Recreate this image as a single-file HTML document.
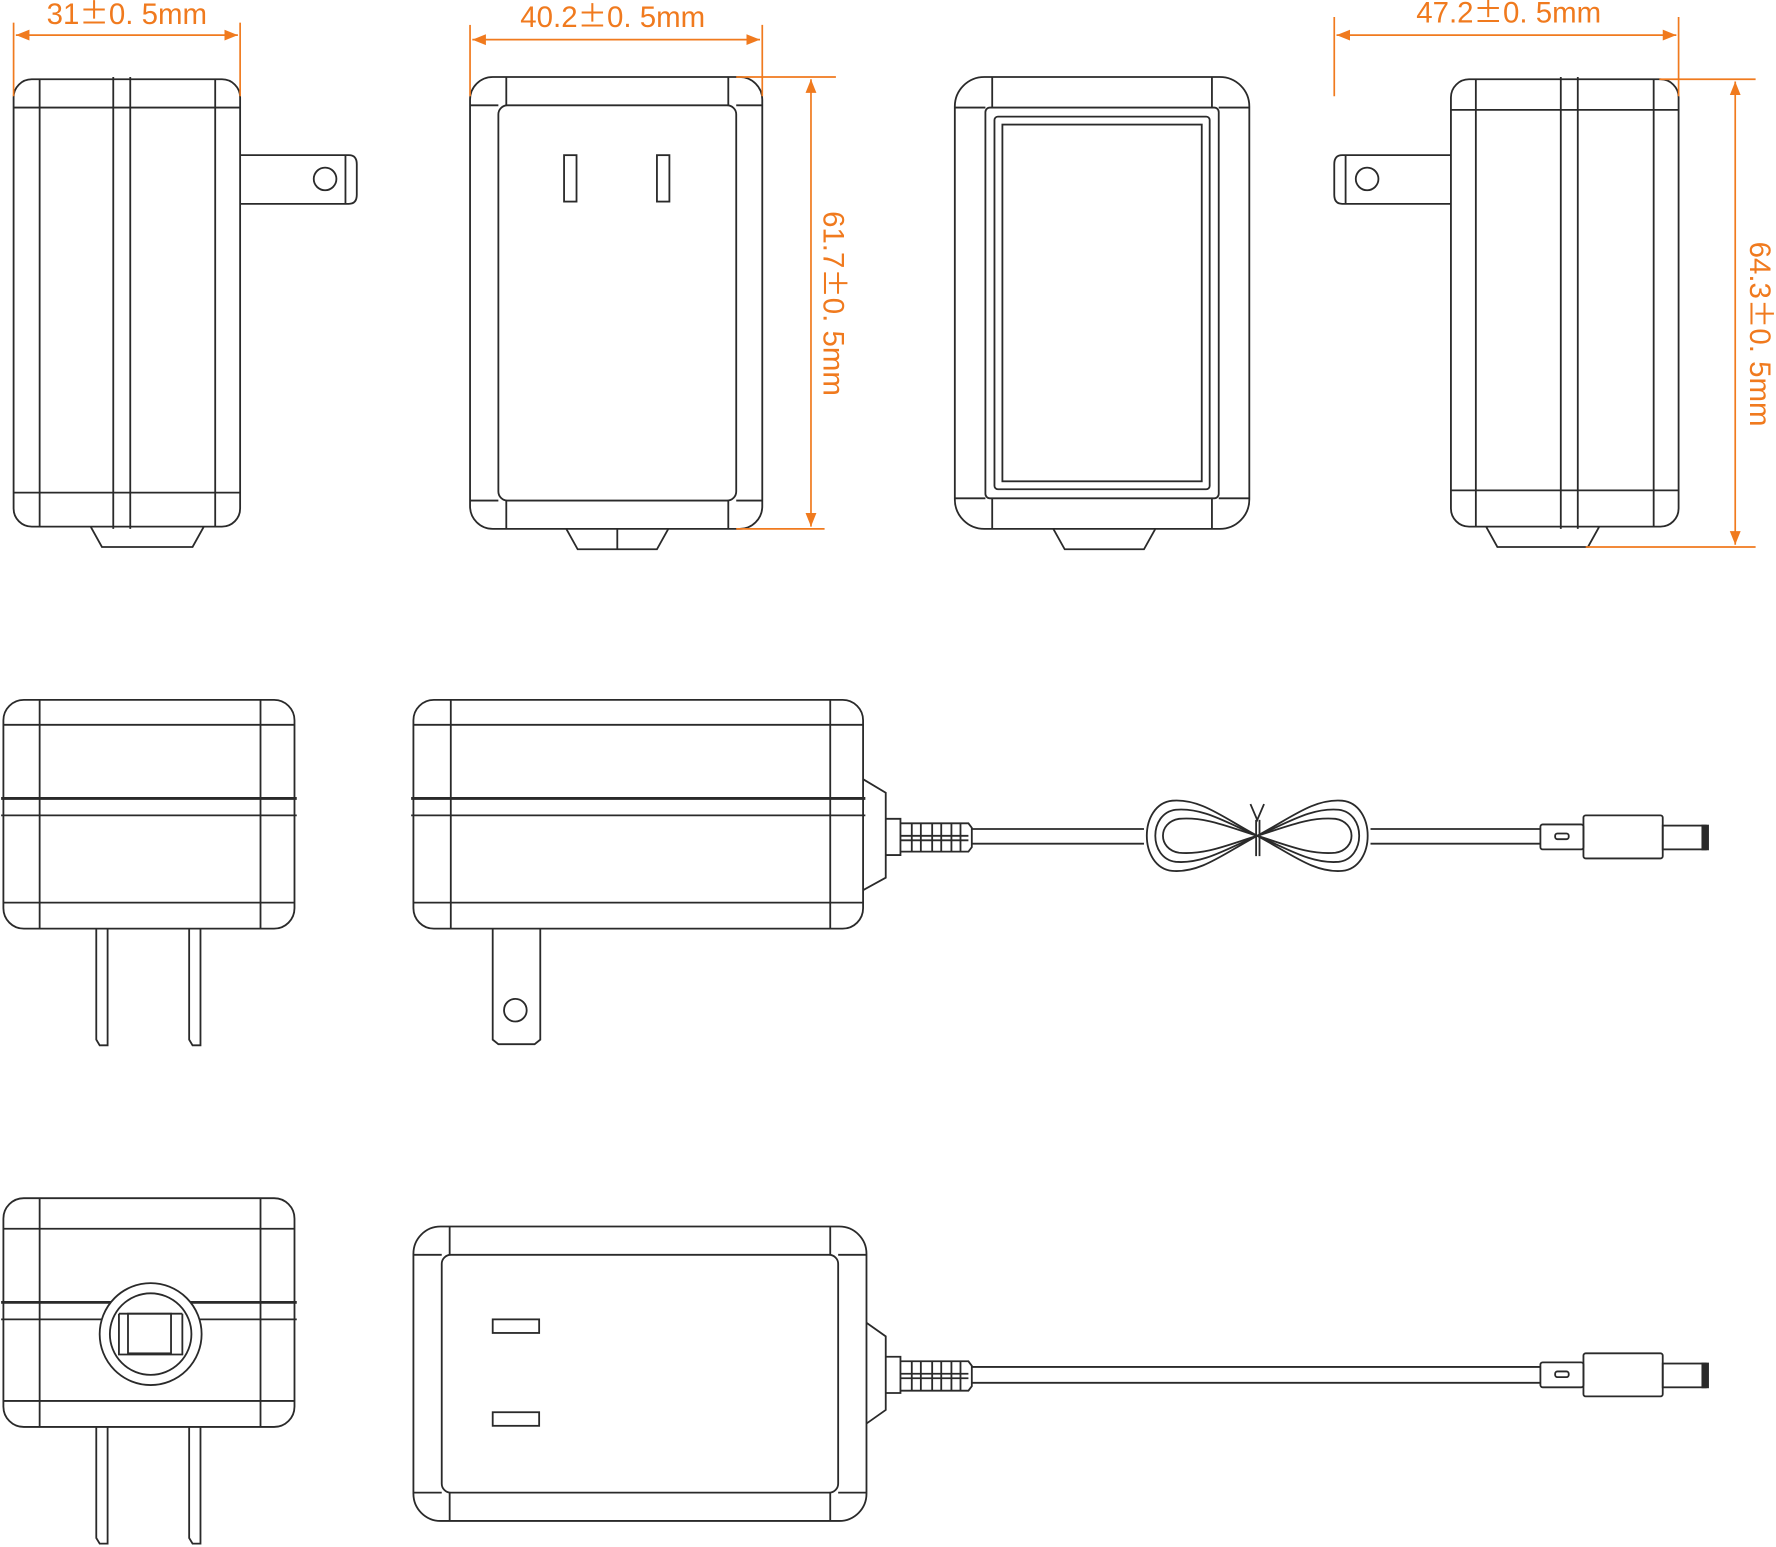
<!DOCTYPE html>
<html><head><meta charset="utf-8"><style>
html,body{margin:0;padding:0;background:#fff;}
svg{display:block}
.l{fill:none;stroke:#2a2a2a;stroke-width:1.6}
.o{fill:none;stroke:#f07a1e;stroke-width:1.5}
.t{fill:#f07a1e;font-family:"Liberation Sans","Noto Sans CJK SC",sans-serif;font-size:26px}
.pm{font-family:"Noto Sans CJK SC",sans-serif;}
</style></head><body>
<svg width="1776" height="1547" viewBox="0 0 1568 1366" preserveAspectRatio="none" xmlns="http://www.w3.org/2000/svg">
<defs>
<marker id="a" viewBox="0 0 10 10" refX="10" refY="5" markerWidth="8" markerHeight="8" orient="auto-start-reverse"><path d="M0,1 L10,5 L0,9z" fill="#f07a1e"/></marker>
</defs>
<!-- 1 left side -->
<g class="l">
<rect x="12" y="70" width="200" height="395" rx="16"/>
<line x1="35" y1="70" x2="35" y2="465"/><line x1="100" y1="68" x2="100" y2="467"/><line x1="115" y1="68" x2="115" y2="467"/><line x1="190" y1="70" x2="190" y2="465"/>
<line x1="12" y1="95" x2="212" y2="95"/><line x1="12" y1="435" x2="212" y2="435"/>
<path d="M80,465 L90,483 L170,483 L180,465"/>
<path d="M212,137 L308,137 Q315,137 315,145 L315,172 Q315,180 308,180 L212,180"/><line x1="305" y1="137" x2="305" y2="180"/>
<circle cx="287" cy="158" r="10"/>
</g>
<line class="o" x1="12" y1="20" x2="12" y2="85"/><line class="o" x1="212" y1="20" x2="212" y2="85"/>
<line class="o" x1="14" y1="31" x2="210" y2="31" marker-start="url(#a)" marker-end="url(#a)"/>
<text class="t" x="112" y="21" text-anchor="middle">31<tspan class="pm">±</tspan>0. 5mm</text>
<!-- 2 front -->
<g class="l">
<rect x="415" y="68" width="258" height="399" rx="20"/>
<rect x="440" y="93" width="210" height="349" rx="8"/>
<path d="M415,93 L440,93 M447,68 L447,93 M650,93 L673,93 M643,68 L643,93 M415,442 L440,442 M447,442 L447,467 M650,442 L673,442 M643,442 L643,467"/>
<rect x="498" y="137" width="11" height="41"/><rect x="580" y="137" width="11" height="41"/>
<path d="M500,467 L510,485 L580,485 L590,467"/><line x1="545" y1="467" x2="545" y2="485"/>
</g>
<line class="o" x1="415" y1="22" x2="415" y2="85"/><line class="o" x1="673" y1="22" x2="673" y2="85"/>
<line class="o" x1="417" y1="35" x2="671" y2="35" marker-start="url(#a)" marker-end="url(#a)"/>
<text class="t" x="541" y="24" text-anchor="middle">40.2<tspan class="pm">±</tspan>0. 5mm</text>
<line class="o" x1="650" y1="68" x2="738" y2="68"/><line class="o" x1="650" y1="467" x2="728" y2="467"/>
<line class="o" x1="716" y1="70" x2="716" y2="465" marker-start="url(#a)" marker-end="url(#a)"/>
<text class="t" transform="translate(727,268) rotate(90)" text-anchor="middle">61.7<tspan class="pm">±</tspan>0. 5mm</text>
<!-- 3 back -->
<g class="l">
<rect x="843" y="68" width="260" height="399" rx="26"/>
<rect x="870" y="95" width="206" height="345" rx="4"/>
<rect x="878" y="103" width="190" height="329" rx="3"/>
<rect x="885" y="110" width="176" height="315"/>
<path d="M843,95 L870,95 M876,68 L876,95 M1076,95 L1103,95 M1070,68 L1070,95 M843,440 L870,440 M876,440 L876,467 M1076,440 L1103,440 M1070,440 L1070,467"/>
<path d="M930,467 L940,485 L1010,485 L1020,467"/>
</g>
<!-- 4 right side -->
<g class="l">
<rect x="1281" y="70" width="201" height="395" rx="16"/>
<line x1="1303" y1="70" x2="1303" y2="465"/><line x1="1378" y1="68" x2="1378" y2="467"/><line x1="1393" y1="68" x2="1393" y2="467"/><line x1="1460" y1="70" x2="1460" y2="465"/>
<line x1="1281" y1="97" x2="1482" y2="97"/><line x1="1281" y1="433" x2="1482" y2="433"/>
<path d="M1312,465 L1322,483 L1402,483 L1412,465"/>
<path d="M1281,137 L1185,137 Q1178,137 1178,145 L1178,172 Q1178,180 1185,180 L1281,180"/><line x1="1188" y1="137" x2="1188" y2="180"/>
<circle cx="1207" cy="158" r="10"/>
</g>
<line class="o" x1="1178" y1="15" x2="1178" y2="85"/><line class="o" x1="1482" y1="15" x2="1482" y2="85"/>
<line class="o" x1="1180" y1="31" x2="1480" y2="31" marker-start="url(#a)" marker-end="url(#a)"/>
<text class="t" x="1332" y="20" text-anchor="middle">47.2<tspan class="pm">±</tspan>0. 5mm</text>
<line class="o" x1="1465" y1="70" x2="1550" y2="70"/><line class="o" x1="1400" y1="483" x2="1550" y2="483"/>
<line class="o" x1="1532" y1="72" x2="1532" y2="481" marker-start="url(#a)" marker-end="url(#a)"/>
<text class="t" transform="translate(1545,295) rotate(90)" text-anchor="middle">64.3<tspan class="pm">±</tspan>0. 5mm</text>
<!-- 5 middle left -->
<g class="l">
<rect x="3" y="618" width="257" height="202" rx="18"/>
<line x1="3" y1="640" x2="260" y2="640"/><line x1="1" y1="705" x2="262" y2="705" stroke-width="2.5"/><line x1="1" y1="720" x2="262" y2="720"/><line x1="3" y1="797" x2="260" y2="797"/>
<line x1="35" y1="618" x2="35" y2="820"/><line x1="230" y1="618" x2="230" y2="820"/>
<path d="M85,820 L85,918 L88,923 L95,923 L95,820 M167,820 L167,918 L170,923 L177,923 L177,820"/>
</g>
<!-- 6 middle -->
<g class="l">
<rect x="365" y="618" width="397" height="202" rx="18"/>
<line x1="365" y1="640" x2="762" y2="640"/><line x1="363" y1="705" x2="764" y2="705" stroke-width="2.5"/><line x1="363" y1="720" x2="764" y2="720"/><line x1="365" y1="797" x2="762" y2="797"/>
<line x1="398" y1="618" x2="398" y2="820"/><line x1="733" y1="618" x2="733" y2="820"/>
<path d="M762,688 L782,700 L782,775 L762,786"/>
<path d="M782,723 L795,723 L795,755 L782,755 M795,727 L855,727 L858,731 L858,748 L855,752 L795,752"/>
<path d="M805,727 V752 M813,727 V752 M823,727 V752 M831,727 V752 M840,727 V752 M848,727 V752 M795,738 H855 M795,742 H855"/>
<line x1="858" y1="732" x2="1010" y2="732"/><line x1="858" y1="745" x2="1010" y2="745"/>
<line x1="1210" y1="732" x2="1360" y2="732"/><line x1="1210" y1="745" x2="1360" y2="745"/>
<path d="M1110,738 C1080,722 1060,705 1035,707 C1005,710 1005,766 1035,769 C1060,771 1080,754 1110,738 C1140,722 1160,705 1185,707 C1215,710 1215,766 1185,769 C1160,771 1140,754 1110,738 Z"/>
<path d="M1110,738 C1082,726 1062,713 1038,715 C1014,718 1014,758 1038,761 C1062,763 1082,750 1110,738 C1138,726 1158,713 1182,715 C1206,718 1206,758 1182,761 C1158,763 1138,750 1110,738 Z"/>
<path d="M1110,738 C1084,730 1064,721 1041,723 C1022,726 1022,750 1041,753 C1064,755 1084,746 1110,738 C1136,730 1156,721 1179,723 C1198,726 1198,750 1179,753 C1156,755 1136,746 1110,738 Z"/>
<path d="M1104,710 L1110,724 L1116,710 M1109,724 L1109,756 M1112,724 L1112,756"/>
<rect x="1360" y="728" width="38" height="22" rx="2"/><rect x="1373" y="736" width="12" height="5" rx="2"/>
<rect x="1398" y="720" width="70" height="38" rx="2"/>
<rect x="1468" y="729" width="38" height="21"/><rect x="1503" y="729" width="5" height="21" fill="#2a2a2a"/>
<path d="M435,820 L435,918 L440,922 L472,922 L477,918 L477,820"/><circle cx="455" cy="892" r="10"/>
</g>
<!-- 7 bottom left -->
<g class="l">
<rect x="3" y="1058" width="257" height="202" rx="18"/>
<line x1="3" y1="1085" x2="260" y2="1085"/><line x1="1" y1="1150" x2="262" y2="1150" stroke-width="2.5"/><line x1="1" y1="1165" x2="262" y2="1165"/><line x1="3" y1="1237" x2="260" y2="1237"/>
<line x1="35" y1="1058" x2="35" y2="1260"/><line x1="230" y1="1058" x2="230" y2="1260"/>
<circle cx="133" cy="1178" r="45" fill="#fff"/><circle cx="133" cy="1178" r="36"/>
<path d="M105,1160 H161 M105,1160 V1196 H161 V1160"/>
<rect x="113" y="1160" width="38" height="35"/>
<path d="M85,1260 L85,1358 L88,1363 L95,1363 L95,1260 M167,1260 L167,1358 L170,1363 L177,1363 L177,1260"/>
</g>
<!-- 8 bottom -->
<g class="l">
<rect x="365" y="1083" width="400" height="260" rx="24"/>
<rect x="390" y="1108" width="350" height="210" rx="8"/>
<path d="M365,1108 L390,1108 M397,1083 L397,1108 M740,1108 L765,1108 M733,1083 L733,1108 M365,1318 L390,1318 M397,1318 L397,1343 M740,1318 L765,1318 M733,1318 L733,1343"/>
<rect x="435" y="1165" width="41" height="12"/><rect x="435" y="1247" width="41" height="12"/>
<path d="M765,1168 L782,1180 L782,1245 L765,1257"/>
<path d="M782,1198 L795,1198 L795,1230 L782,1230 M795,1202 L855,1202 L858,1206 L858,1224 L855,1228 L795,1228"/>
<path d="M805,1202 V1228 M813,1202 V1228 M823,1202 V1228 M831,1202 V1228 M840,1202 V1228 M848,1202 V1228 M795,1213 H855 M795,1217 H855"/>
<line x1="858" y1="1207" x2="1360" y2="1207"/><line x1="858" y1="1221" x2="1360" y2="1221"/>
<rect x="1360" y="1203" width="38" height="22" rx="2"/><rect x="1373" y="1211" width="12" height="5" rx="2"/>
<rect x="1398" y="1195" width="70" height="38" rx="2"/>
<rect x="1468" y="1204" width="38" height="21"/><rect x="1503" y="1204" width="5" height="21" fill="#2a2a2a"/>
</g>
</svg>
</body></html>
